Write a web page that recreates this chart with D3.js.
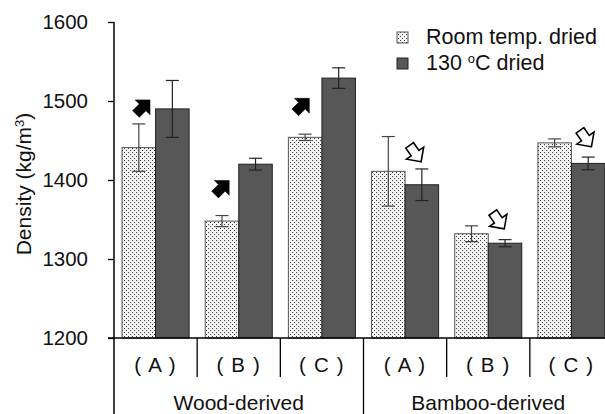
<!DOCTYPE html>
<html><head><meta charset="utf-8">
<script src="https://cdn.jsdelivr.net/npm/d3@7"></script>
<style>
html,body{margin:0;padding:0;background:#fff;}
svg{display:block;font-family:"Liberation Sans",Arial,sans-serif;}
</style></head>
<body>
<svg id="chart" width="605" height="414"></svg>
<script>
const categories = ["( A )","( B )","( C )","( A )","( B )","( C )"];
const groups = ["Wood-derived","Bamboo-derived"];
const seriesNames = ["Room temp. dried","130 ºC dried"];
const roomTemp = [1441, 1348, 1454, 1411, 1332, 1447];
const roomErr  = [30, 7, 4, 44, 10, 5];
const dried130 = [1490, 1420, 1529, 1394, 1320, 1421];
const driedErr = [36, 7.5, 13, 20, 4.5, 8];
const arrowKind = ["up","up","up","down","down","down"];
const arrowLevel = [1492, 1390, 1494, 1434, 1349, 1453];
const yTicks = [1200, 1300, 1400, 1500, 1600];

(function(){
const svg = d3.select("#chart");
const mLeft = 114, mRight = 613, mTop = 22, mBottom = 338;

const defs = svg.append("defs");
const pat = defs.append("pattern").attr("id","dots").attr("patternUnits","userSpaceOnUse")
  .attr("width",4).attr("height",4);
pat.append("rect").attr("width",4).attr("height",4).attr("fill","#f4f4f4");
pat.append("rect").attr("x",0).attr("y",0).attr("width",1).attr("height",1).attr("fill","#3a3a3a");
pat.append("rect").attr("x",2).attr("y",2).attr("width",1).attr("height",1).attr("fill","#3a3a3a");

const idx = categories.map((c,i)=>i);
const x0 = d3.scaleBand().domain(idx).range([mLeft,mRight]).paddingInner(0).paddingOuter(0);
const x1 = d3.scaleBand().domain([0,1]).range([0,x0.bandwidth()]).paddingInner(0).paddingOuter(0.24);
const y = d3.scaleLinear().domain([1200,1600]).range([mBottom,mTop]);

const series = [
  {vals: roomTemp, err: roomErr, fill: "url(#dots)", stroke:"#555", es:"#444"},
  {vals: dried130, err: driedErr, fill: "#575757", stroke:"#222", es:"#222"}
];

series.forEach((s,si)=>{
  svg.append("g").selectAll("rect").data(idx).join("rect")
    .attr("x", i=>x0(i)+x1(si))
    .attr("y", i=>y(s.vals[i]))
    .attr("width", x1.bandwidth())
    .attr("height", i=>mBottom - y(s.vals[i]))
    .attr("fill", s.fill).attr("stroke", s.stroke).attr("stroke-width",1);
});
series.forEach((s,si)=>{
  const g = svg.append("g").attr("stroke",s.es).attr("stroke-width",1.2);
  idx.forEach(i=>{
    const cx = x0(i)+x1(si)+x1.bandwidth()/2;
    const yt = y(s.vals[i]+s.err[i]), yb = y(s.vals[i]-s.err[i]);
    g.append("line").attr("x1",cx).attr("x2",cx).attr("y1",yt).attr("y2",yb);
    g.append("line").attr("x1",cx-6.5).attr("x2",cx+6.5).attr("y1",yt).attr("y2",yt);
    g.append("line").attr("x1",cx-6.5).attr("x2",cx+6.5).attr("y1",yb).attr("y2",yb);
  });
});

const arrowPath = "M0,-10 L10,0 L4.5,0 L4.5,9 L-4.5,9 L-4.5,0 L-10,0 Z";
const arrowShift = [-13, -17, -20, 10, 10, 14];
idx.forEach(i=>{
  const up = arrowKind[i]==="up";
  const cx = x0(i) + x0.bandwidth()/2 + arrowShift[i];
  const cy = y(arrowLevel[i]);
  svg.append("path").attr("d",arrowPath)
    .attr("transform",`translate(${cx},${cy}) rotate(${up?45:145}) scale(1.05)`)
    .attr("fill", up ? "#000" : "#fff")
    .attr("stroke","#000").attr("stroke-width", up?0.5:1.5)
    .attr("stroke-linejoin","miter");
});

const yAxis = d3.axisLeft(y).tickValues(yTicks).tickSize(6).tickPadding(20).tickFormat(d3.format("d"));
const ya = svg.append("g").attr("transform",`translate(${mLeft},0)`).call(yAxis);
ya.select(".domain").remove();
ya.selectAll("line").attr("stroke","#000").attr("stroke-width",1.3);
ya.selectAll("text").attr("font-size",20.5).attr("fill","#111").attr("font-family","Liberation Sans, Arial, sans-serif");
svg.append("line").attr("x1",mLeft).attr("x2",mLeft).attr("y1",mTop).attr("y2",414)
  .attr("stroke","#000").attr("stroke-width",1.5);
svg.append("line").attr("x1",mLeft-6).attr("x2",mRight).attr("y1",mBottom).attr("y2",mBottom)
  .attr("stroke","#000").attr("stroke-width",1.5);

idx.forEach(i=>{
  if(i>0){
    const xx = x0(i);
    svg.append("line").attr("x1",xx).attr("x2",xx).attr("y1",mBottom)
      .attr("y2", i===3 ? 414 : 377).attr("stroke","#000").attr("stroke-width",1.3);
  }
  svg.append("text").attr("x", x0(i)+x0.bandwidth()/2).attr("y",372)
    .attr("text-anchor","middle").attr("font-size",20.5).attr("letter-spacing",1.2)
    .attr("fill","#111").text(categories[i]);
});
groups.forEach((g,gi)=>{
  const xs = x0(gi*3), xe = x0(gi*3+2)+x0.bandwidth();
  svg.append("text").attr("x",(xs+xe)/2).attr("y",410).attr("text-anchor","middle")
    .attr("font-size",21).attr("fill","#111").text(g);
});

const ytl = svg.append("text").attr("transform","translate(31,184) rotate(-90)")
  .attr("text-anchor","middle").attr("font-size",21).attr("fill","#111");
ytl.append("tspan").text("Density (kg/m");
ytl.append("tspan").attr("font-size",13).attr("baseline-shift","super").text("3");
ytl.append("tspan").text(")");

const lg = svg.append("g");
lg.append("rect").attr("x",397).attr("y",32).attr("width",11).attr("height",11)
  .attr("fill","url(#dots)").attr("stroke","#555");
lg.append("rect").attr("x",397).attr("y",58).attr("width",11).attr("height",11)
  .attr("fill","#575757").attr("stroke","#222");
lg.append("text").attr("x",426).attr("y",44).attr("font-size",21.5).attr("fill","#111").text(seriesNames[0]);
const t2 = lg.append("text").attr("x",426).attr("y",70).attr("font-size",21.5).attr("fill","#111");
t2.append("tspan").text("130 ");
t2.append("tspan").attr("font-size",13).attr("baseline-shift","super").text("o");
t2.append("tspan").text("C dried");
})();
</script>
</body></html>
